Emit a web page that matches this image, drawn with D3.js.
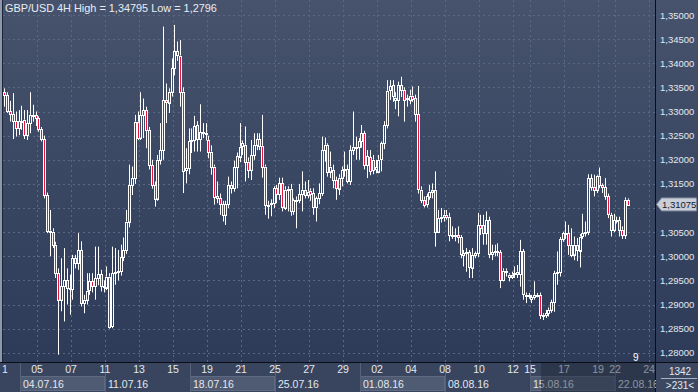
<!DOCTYPE html>
<html><head><meta charset="utf-8">
<script src="https://cdn.jsdelivr.net/npm/d3@7/dist/d3.min.js"></script>
<style>html,body{margin:0;padding:0;background:#2e3c5a;overflow:hidden}svg{display:block}</style>
</head><body><svg id="c" width="698" height="392"></svg>
<script>
const title = "GBP/USD 4H High = 1,34795 Low = 1,2796";
const opens = [1.3340,1.3334,1.3301,1.3294,1.3280,1.3265,1.3280,1.3283,1.3251,1.3276,1.3293,1.3293,1.3286,1.3264,1.3243,1.3127,1.3053,1.3051,1.3024,1.2965,
1.2910,1.2938,1.2951,1.2934,1.2932,1.2996,1.2986,1.3013,1.2903,1.2910,1.2929,1.2948,1.2938,1.2955,1.2963,1.2938,1.2936,1.2958,1.2855,1.2965,
1.2967,1.2969,1.2998,1.3013,1.3072,1.3148,1.3162,1.3279,1.3246,1.3293,1.3303,1.3262,1.3189,1.3148,1.3120,1.3200,1.3220,1.3324,1.3319,1.3341,
1.3390,1.3425,1.3416,1.3341,1.3177,1.3182,1.3238,1.3241,1.3272,1.3243,1.3257,1.3255,1.3241,1.3217,1.3186,1.3124,1.3120,1.3108,1.3086,1.3108,
1.3148,1.3141,1.3184,1.3207,1.3227,1.3231,1.3196,1.3179,1.3210,1.3231,1.3243,1.3229,1.3186,1.3107,1.3107,1.3110,1.3141,1.3129,1.3151,1.3101,
1.3138,1.3140,1.3094,1.3117,1.3117,1.3129,1.3138,1.3127,1.3136,1.3131,1.3101,1.3120,1.3131,1.3220,1.3231,1.3176,1.3179,1.3158,1.3141,1.3163,
1.3179,1.3180,1.3155,1.3220,1.3227,1.3225,1.3238,1.3255,1.3189,1.3205,1.3200,1.3179,1.3176,1.3200,1.3234,1.3272,1.3343,1.3354,1.3329,1.3324,
1.3355,1.3345,1.3327,1.3324,1.3333,1.3327,1.3294,1.3138,1.3117,1.3107,1.3124,1.3134,1.3138,1.3051,1.3079,1.3082,1.3086,1.3082,1.3044,1.3041,
1.3044,1.3039,1.3003,1.3007,1.3008,1.2977,1.3003,1.3007,1.3065,1.3065,1.3048,1.3075,1.3004,1.3008,1.3010,1.3008,1.2951,1.2970,1.2962,1.2958,
1.2962,1.2968,1.2963,1.3010,1.2920,1.2920,1.2910,1.2915,1.2920,1.2920,1.2879,1.2877,1.2882,1.2889,1.2905,1.2965,1.2967,1.3036,1.3048,1.3048,
1.3024,1.3004,1.3024,1.3013,1.3041,1.3048,1.3051,1.3162,1.3144,1.3138,1.3167,1.3148,1.3143,1.3124,1.3086,1.3055,1.3075,1.3075,1.3055,1.3044,
1.3117];
const highs = [1.3348,1.3340,1.3322,1.3338,1.3300,1.3303,1.3312,1.3303,1.3303,1.3340,1.3314,1.3300,1.3290,1.3268,1.3250,1.3132,1.3096,1.3058,1.3030,1.2975,
1.2996,1.3017,1.2975,1.2962,1.3003,1.3003,1.3048,1.3031,1.2920,1.2965,1.2965,1.2965,1.3020,1.3020,1.2972,1.2950,1.2979,1.2965,1.3020,1.3017,
1.3013,1.3024,1.3039,1.3096,1.3190,1.3186,1.3293,1.3300,1.3340,1.3327,1.3310,1.3268,1.3200,1.3155,1.3210,1.3276,1.3476,1.3358,1.3348,1.3410,
1.34795,1.3445,1.3448,1.3350,1.3224,1.3265,1.3265,1.3291,1.3280,1.3315,1.3276,1.3276,1.3250,1.3230,1.3190,1.3155,1.3130,1.3115,1.3115,1.3165,
1.3155,1.3198,1.3215,1.3276,1.3240,1.3269,1.3205,1.3241,1.3255,1.3255,1.3255,1.3293,1.3190,1.3115,1.3118,1.3145,1.3148,1.3163,1.3163,1.3145,
1.3145,1.3150,1.3120,1.3124,1.3150,1.3176,1.3155,1.3158,1.3141,1.3141,1.3124,1.3151,1.3248,1.3246,1.3234,1.3217,1.3190,1.3165,1.3170,1.3186,
1.3217,1.3190,1.3230,1.3300,1.3248,1.3245,1.3272,1.3260,1.3220,1.3220,1.3210,1.3200,1.3210,1.3238,1.3280,1.3365,1.3365,1.3365,1.3340,1.3362,
1.3372,1.3350,1.3335,1.3345,1.3352,1.3335,1.3353,1.3145,1.3124,1.3130,1.3148,1.3151,1.3176,1.3096,1.3100,1.3096,1.3096,1.3090,1.3062,1.3058,
1.3062,1.3044,1.3013,1.3017,1.3013,1.3017,1.3010,1.3090,1.3086,1.3086,1.3093,1.3082,1.3024,1.3024,1.3027,1.3013,1.2975,1.2975,1.2965,1.2968,
1.2979,1.2982,1.3034,1.3015,1.2925,1.2924,1.2920,1.2948,1.2924,1.2925,1.2882,1.2889,1.2894,1.2910,1.2970,1.3010,1.3040,1.3051,1.3072,1.3065,
1.3058,1.3041,1.3038,1.3046,1.3088,1.3072,1.3170,1.3170,1.3169,1.3169,1.3184,1.3151,1.3162,1.3130,1.3090,1.3088,1.3082,1.3082,1.3062,1.3122,
1.3120];
const lows = [1.3310,1.3297,1.3279,1.3243,1.3248,1.3251,1.3262,1.3243,1.3241,1.3255,1.3279,1.3270,1.3258,1.3238,1.3120,1.3048,1.3000,1.3017,1.2955,1.2796,
1.2886,1.2865,1.2900,1.2879,1.2910,1.2975,1.2972,1.2896,1.2882,1.2900,1.2920,1.2925,1.2910,1.2940,1.2927,1.2925,1.2930,1.2850,1.2851,1.2941,
1.2950,1.2960,1.2990,1.3005,1.3060,1.3127,1.3150,1.3241,1.3241,1.3245,1.3224,1.3180,1.3140,1.3103,1.3115,1.3190,1.3200,1.3276,1.3297,1.3331,
1.3375,1.3405,1.3310,1.3131,1.3151,1.3170,1.3214,1.3217,1.3217,1.3217,1.3245,1.3240,1.3203,1.3169,1.3107,1.3110,1.3086,1.3072,1.3065,1.3100,
1.3130,1.3134,1.3141,1.3195,1.3210,1.3155,1.3162,1.3158,1.3200,1.3220,1.3220,1.3163,1.3086,1.3078,1.3083,1.3100,1.3110,1.3117,1.3093,1.3096,
1.3093,1.3084,1.3086,1.3058,1.3110,1.3093,1.3120,1.3120,1.3115,1.3086,1.3072,1.3108,1.3125,1.3196,1.3165,1.3162,1.3141,1.3117,1.3127,1.3145,
1.3165,1.3151,1.3148,1.3210,1.3200,1.3200,1.3225,1.3180,1.3162,1.3168,1.3170,1.3172,1.3172,1.3176,1.3222,1.3265,1.3324,1.3320,1.3305,1.3290,
1.3330,1.3279,1.3310,1.3315,1.3320,1.3279,1.3130,1.3110,1.3101,1.3101,1.3117,1.3120,1.3020,1.3048,1.3070,1.3072,1.3076,1.3031,1.3036,1.3031,
1.3027,1.2996,1.2979,1.2968,1.2955,1.2955,1.2996,1.2998,1.3044,1.3024,1.3024,1.2996,1.2992,1.3000,1.3000,1.2934,1.2948,1.2958,1.2948,1.2953,
1.2955,1.2955,1.2937,1.2910,1.2903,1.2912,1.2903,1.2910,1.2915,1.2870,1.2868,1.2872,1.2875,1.2883,1.2885,1.2941,1.2958,1.3030,1.3036,1.3003,
1.2998,1.2992,1.2990,1.2977,1.3036,1.3041,1.3044,1.3136,1.3124,1.3131,1.3141,1.3131,1.3117,1.3079,1.3041,1.3050,1.3068,1.3041,1.3036,1.3036,
1.3105];
const closes = [1.3334,1.3301,1.3294,1.3280,1.3265,1.3280,1.3278,1.3251,1.3276,1.3293,1.3290,1.3286,1.3264,1.3243,1.3127,1.3053,1.3051,1.3024,1.2965,1.2910,
1.2938,1.2951,1.2934,1.2932,1.2996,1.2986,1.3013,1.2903,1.2910,1.2929,1.2948,1.2938,1.2955,1.2963,1.2938,1.2936,1.2958,1.2855,1.2965,1.2967,
1.2969,1.2998,1.3013,1.3072,1.3148,1.3162,1.3279,1.3246,1.3293,1.3303,1.3262,1.3189,1.3148,1.3120,1.3200,1.3220,1.3324,1.3319,1.3341,1.3390,
1.3425,1.3416,1.3341,1.3177,1.3182,1.3238,1.3241,1.3269,1.3243,1.3257,1.3255,1.3253,1.3217,1.3186,1.3124,1.3120,1.3108,1.3086,1.3108,1.3148,
1.3141,1.3184,1.3207,1.3227,1.3234,1.3196,1.3179,1.3210,1.3231,1.3243,1.3229,1.3186,1.3107,1.3107,1.3110,1.3141,1.3129,1.3151,1.3101,1.3138,
1.3140,1.3094,1.3117,1.3117,1.3129,1.3138,1.3127,1.3134,1.3129,1.3101,1.3120,1.3131,1.3220,1.3231,1.3176,1.3186,1.3158,1.3141,1.3163,1.3179,
1.3180,1.3155,1.3220,1.3227,1.3225,1.3238,1.3255,1.3189,1.3207,1.3177,1.3179,1.3184,1.3200,1.3234,1.3272,1.3343,1.3352,1.3331,1.3324,1.3355,
1.3345,1.3324,1.3324,1.3333,1.3327,1.3294,1.3138,1.3117,1.3107,1.3124,1.3134,1.3138,1.3051,1.3079,1.3082,1.3086,1.3082,1.3044,1.3041,1.3044,
1.3039,1.3003,1.3007,1.3008,1.2977,1.3003,1.3007,1.3065,1.3058,1.3048,1.3075,1.3004,1.3008,1.3010,1.3008,1.2951,1.2970,1.2968,1.2958,1.2962,
1.2965,1.2963,1.3010,1.2920,1.2920,1.2919,1.2915,1.2920,1.2919,1.2879,1.2877,1.2882,1.2889,1.2905,1.2965,1.2967,1.3036,1.3048,1.3048,1.3024,
1.3004,1.3024,1.3013,1.3041,1.3048,1.3051,1.3162,1.3144,1.3138,1.3167,1.3148,1.3143,1.3124,1.3086,1.3055,1.3075,1.3075,1.3055,1.3044,1.3117,
1.31075];
const barsPerDay = 6;
const dayLabels = ["1","05","07","11","13","15","19","21","25","27","29","02","04","08","10","12","15","17","19","22","24"];
const dayLabelIdx = [0,2,4,6,8,10,12,14,16,18,20,22,24,26,28,30,31,33,35,36,38];
const weekLabels = ["04.07.16","11.07.16","18.07.16","25.07.16","01.08.16","08.08.16","15.08.16","22.08.16"];
const weekIdx = [1,6,11,16,21,26,31,36];
const priceTicks = d3.range(1.28, 1.35001, 0.005);
const lastPrice = 1.31075;
const barsInfo = ["1342", ">231<"];

const svg = d3.select("#c");
const W = 698, H = 392, plotR = 655, plotB = 362;
const defs = svg.append("defs");
const g1 = defs.append("linearGradient").attr("id","bg").attr("x1",0).attr("y1",0).attr("x2",0).attr("y2",1);
g1.append("stop").attr("offset","0%").attr("stop-color","#47536c");
g1.append("stop").attr("offset","100%").attr("stop-color","#2d3b59");
defs.append("clipPath").attr("id","pc").append("rect").attr("x",3).attr("y",0).attr("width",plotR-3).attr("height",plotB);

svg.append("rect").attr("width",W).attr("height",plotB).attr("fill","url(#bg)");
svg.append("rect").attr("y",plotB).attr("width",W).attr("height",H-plotB).attr("fill","#39455e");

const x = d3.scaleLinear().domain([0, 1]).range([3, 20]); // one trading day
const y = d3.scaleLinear().domain([1.28, 1.35]).range([352.8, 15]);
const cx = i => x(Math.floor(i/barsPerDay) + ((i%barsPerDay)+0.5)/barsPerDay);

// grid
const grid = svg.append("g").attr("clip-path","url(#pc)");
grid.selectAll("line.h").data(priceTicks).join("line")
  .attr("x1",3).attr("x2",plotR).attr("y1",d=>Math.round(y(d))+0.5).attr("y2",d=>Math.round(y(d))+0.5)
  .attr("stroke","#5b6885").attr("stroke-dasharray","2,3");
svg.selectAll("line.v").data(dayLabelIdx.slice(1)).join("line")
  .attr("x1",d=>Math.round(x(d))+0.5).attr("x2",d=>Math.round(x(d))+0.5).attr("y1",0).attr("y2",plotB+6)
  .attr("stroke","#5b6885").attr("stroke-dasharray","2,3");

// candles
const data = closes.map((c,i)=>({o:opens[i],h:highs[i],l:lows[i],c:c,i:i}));
const cg = svg.append("g").attr("clip-path","url(#pc)");
const cand = cg.selectAll("g").data(data).join("g");
cand.append("line")
  .attr("x1",d=>Math.round(cx(d.i))+0.5).attr("x2",d=>Math.round(cx(d.i))+0.5)
  .attr("y1",d=>y(d.h)).attr("y2",d=>y(Math.max(d.o,d.c)))
  .attr("stroke","#ffffff");
cand.append("line")
  .attr("x1",d=>Math.round(cx(d.i))+0.5).attr("x2",d=>Math.round(cx(d.i))+0.5)
  .attr("y1",d=>y(Math.min(d.o,d.c))).attr("y2",d=>y(d.l))
  .attr("stroke","#ffffff");
cand.append("rect")
  .attr("x",d=>Math.round(cx(d.i))-0.5).attr("width",2)
  .attr("y",d=>Math.round(y(Math.max(d.o,d.c)))+0.5)
  .attr("height",d=>Math.max(1,Math.round(Math.abs(y(d.o)-y(d.c)))))
  .attr("fill",d=>d.c<d.o?"#e3173f":"none")
  .attr("stroke","#ffffff").attr("stroke-width",1);

// frame lines
svg.append("rect").attr("x",0).attr("y",0).attr("width",2).attr("height",plotB).attr("fill","#8d98ad");
svg.append("line").attr("x1",2.5).attr("x2",2.5).attr("y1",0).attr("y2",plotB).attr("stroke","#1d2538");
svg.append("line").attr("x1",plotR+0.5).attr("x2",plotR+0.5).attr("y1",0).attr("y2",H).attr("stroke","#0a0e16");
svg.append("line").attr("x1",0).attr("x2",W).attr("y1",plotB+0.5).attr("y2",plotB+0.5).attr("stroke","#0a0e16");

const font = "Liberation Sans, Arial, sans-serif";
// title
svg.append("text").attr("x",5).attr("y",12).attr("fill","#e9edf3").attr("font-family",font).attr("font-size",10.9).text(title);

// price axis (the label hidden behind the last-price tag is skipped)
const fmt = v => d3.format(".5f")(v).replace(".",",");
const shownTicks = priceTicks.filter(t => Math.abs(y(t)-y(lastPrice)) > 9);
svg.selectAll("text.p").data(shownTicks).join("text")
  .attr("x",660).attr("y",d=>y(d)+3.5).attr("fill","#e3e8f0").attr("font-family",font).attr("font-size",9.5).text(fmt);

// last price tag
const ly = y(lastPrice);
svg.append("path").attr("d",`M656.5,${ly} L661.5,${ly-6.5} L696.5,${ly-6.5} L696.5,${ly+6.5} L661.5,${ly+6.5} Z`)
  .attr("fill","#c9ced9").attr("stroke","#7d879b");
svg.append("text").attr("x",662).attr("y",ly+3.5).attr("fill","#141a28").attr("font-family",font).attr("font-size",9.5).text(fmt(lastPrice));

// time axis: week boxes
weekIdx.forEach((d,k)=>{
  const x0 = x(d), x1 = k<weekIdx.length-1 ? x(weekIdx[k+1]) : plotR;
  svg.append("rect").attr("x",x0+0.5).attr("y",376.5).attr("width",Math.max(0,Math.min(x1,plotR)-x0-1)).attr("height",14)
    .attr("fill",k%2===0?"#4f5b72":"#39455e").attr("stroke",k%2===0?"#5f6a80":"none");
  svg.append("line").attr("x1",Math.round(x0)+0.5).attr("x2",Math.round(x0)+0.5).attr("y1",plotB+1).attr("y2",H)
    .attr("stroke","#56627a");
  svg.append("text").attr("x",x0+3).attr("y",387.5).attr("fill","#e3e8f0").attr("font-family",font).attr("font-size",10.5).text(weekLabels[k]);
});
svg.selectAll("text.d").data(dayLabels).join("text")
  .attr("x",(d,k)=>x(dayLabelIdx[k])+(k===0?2:0)).attr("y",373).attr("text-anchor","middle")
  .attr("fill","#e3e8f0").attr("font-family",font).attr("font-size",10.5).text(d=>d);
// dim overlay on the right part of time axis
svg.append("rect").attr("x",541).attr("y",plotB+1).attr("width",plotR-541).attr("height",H-plotB-1).attr("fill","#1c2538").attr("opacity",0.45);
svg.append("text").attr("x",633).attr("y",361).attr("fill","#ffffff").attr("font-family",font).attr("font-size",10).text("9");

// bottom-right corner
svg.append("rect").attr("x",plotR+1).attr("y",plotB+1).attr("width",W-plotR-1).attr("height",H-plotB-1).attr("fill","#3c4861");
svg.append("line").attr("x1",661).attr("x2",697).attr("y1",378.5).attr("y2",378.5).attr("stroke","#aab2c2");
svg.append("text").attr("x",680).attr("y",375).attr("text-anchor","middle").attr("fill","#e3e8f0").attr("font-family",font).attr("font-size",10).text(barsInfo[0]);
svg.append("text").attr("x",680).attr("y",389).attr("text-anchor","middle").attr("fill","#e3e8f0").attr("font-family",font).attr("font-size",10).text(barsInfo[1]);
</script></body></html>
